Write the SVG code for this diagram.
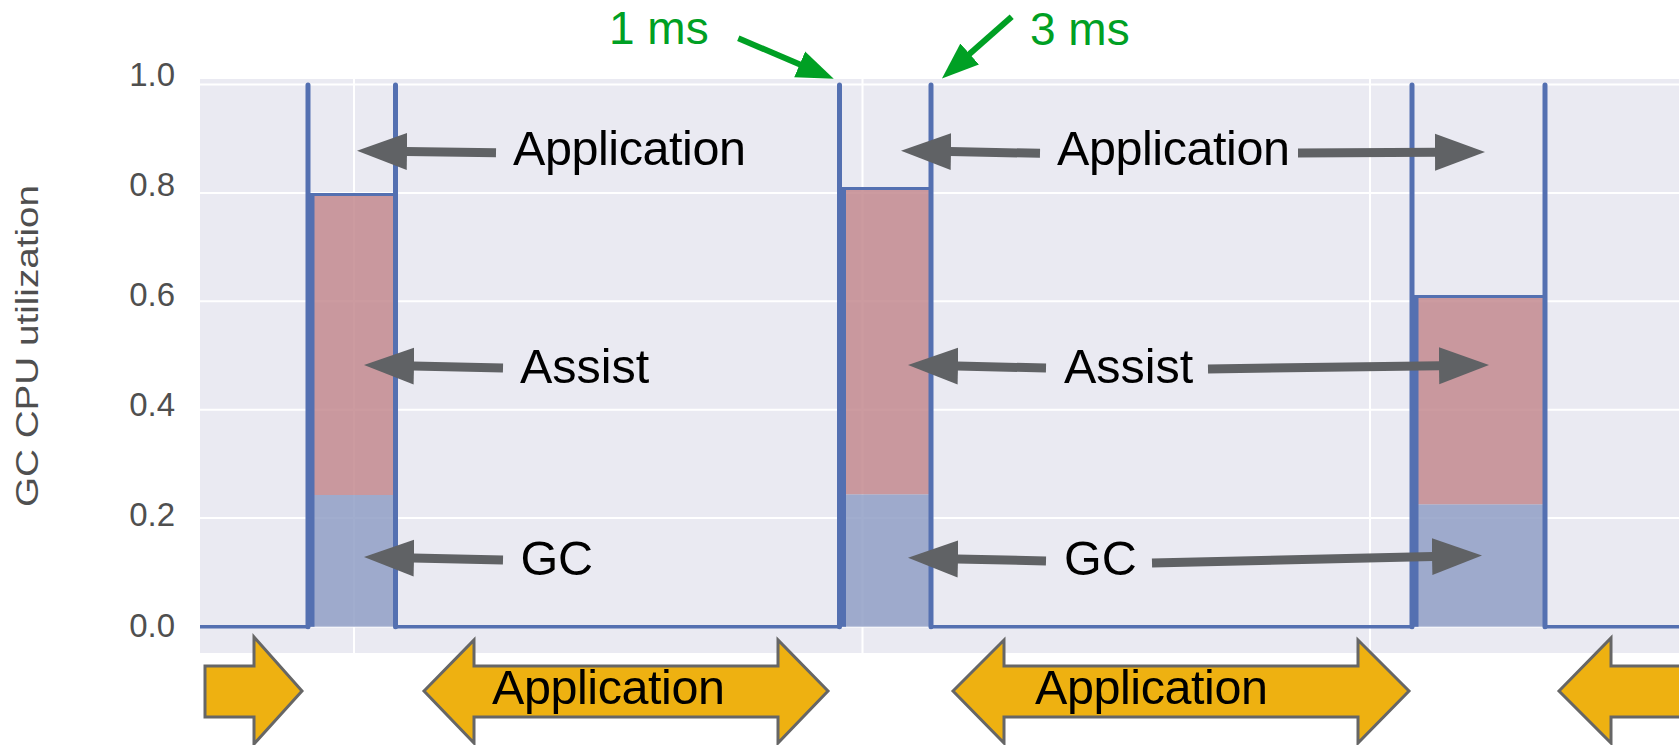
<svg xmlns="http://www.w3.org/2000/svg" width="1679" height="745" viewBox="0 0 1679 745">
  <style>
    .tick { font-family: "Liberation Sans", Arial, sans-serif; font-size: 33px; fill: #4f4f4f; text-anchor: end; }
    .ytitle { font-family: "Liberation Sans", Arial, sans-serif; font-size: 32px; fill: #4f4f4f; text-anchor: middle; }
    .lbl { font-family: "Liberation Sans", Arial, sans-serif; font-size: 48.5px; fill: #000; }
    .ms { font-family: "Liberation Sans", Arial, sans-serif; font-size: 46px; fill: #00a024; }
    .grid { stroke: #ffffff; stroke-width: 2; fill: none; }
    .line { stroke: #5470b1; fill: none; }
    .red { fill: #c3898f; fill-opacity: 0.85; }
    .blue { fill: #919fc5; fill-opacity: 0.85; }
    .garrow { stroke: #606265; stroke-width: 9; fill: none; marker-end: url(#gh); }
    .grarrow { stroke: #00a024; stroke-width: 6; fill: none; marker-end: url(#grh); }
    .yarrow { fill: #eeb111; stroke: #666666; stroke-width: 3; stroke-linejoin: miter; }
  </style>
  <defs>
    <marker id="gh" markerUnits="userSpaceOnUse" viewBox="0 -19 50 38" markerWidth="50" markerHeight="38" refX="1" refY="0" orient="auto">
      <path d="M0,-18.5 L50,0 L0,18.5 z" fill="#606265"/>
    </marker>
    <marker id="grh" markerUnits="userSpaceOnUse" viewBox="0 -15 38 30" markerWidth="38" markerHeight="30" refX="1" refY="0" orient="auto">
      <path d="M0,-14 L37,0 L0,14 z" fill="#00a024"/>
    </marker>
  </defs>

  <g id="plot">
    <rect x="200" y="79" width="1479" height="574" fill="#eaeaf2"/>
    <g class="grid">
      <path d="M200,84.5 H1679 M200,192.9 H1679 M200,301.3 H1679 M200,409.7 H1679 M200,518.1 H1679 M200,626.5 H1679"/>
      <path d="M354,79 V653 M862.5,79 V653 M1370,79 V653"/>
    </g>
    <g id="axis-labels">
      <text class="tick" x="175" y="85.5">1.0</text>
      <text class="tick" x="175" y="195.7">0.8</text>
      <text class="tick" x="175" y="305.9">0.6</text>
      <text class="tick" x="175" y="416.1">0.4</text>
      <text class="tick" x="175" y="526.3">0.2</text>
      <text class="tick" x="175" y="636.5">0.0</text>
      <text class="ytitle" transform="translate(38,346) rotate(-90)" textLength="322" lengthAdjust="spacingAndGlyphs">GC CPU utilization</text>
    </g>
  </g>

  <g id="spike1">
    <rect class="red" x="308" y="194.5" width="87.5" height="300.5"/>
    <rect class="blue" x="308" y="495" width="87.5" height="131.7"/>
  </g>
  <g id="spike2">
    <rect class="red" x="839.5" y="188.5" width="91.5" height="306"/>
    <rect class="blue" x="839.5" y="494.5" width="91.5" height="132.2"/>
  </g>
  <g id="spike3">
    <rect class="red" x="1412" y="296.5" width="133" height="208"/>
    <rect class="blue" x="1412" y="504.5" width="133" height="122.2"/>
  </g>

  <g id="series-line">
    <path class="line" stroke-width="3.5" d="M200,626.7 H308 M395.5,626.7 H839.5 M931,626.7 H1412 M1545,626.7 H1679"/>
    <path class="line" stroke-width="5" stroke-linecap="round" d="M308,85 V626.7 M395.5,85 V626.7 M839.5,85 V626.7 M931,85 V626.7 M1412,85 V626.7 M1545,85 V626.7"/>
    <path class="line" stroke-width="5" d="M312,194.5 V626.7 M843.5,188.5 V626.7 M1416,296.5 V626.7"/>
    <path class="line" stroke-width="3" d="M308,194.5 H395.5 M839.5,188.5 H931 M1412,296.5 H1545"/>
  </g>

  <g id="connectors">
    <line class="garrow" x1="496" y1="152.7" x2="406" y2="151.4"/>
    <line class="garrow" x1="1040" y1="153.3" x2="950" y2="151.6"/>
    <line class="garrow" x1="1298" y1="153" x2="1436" y2="152.3"/>
    <line class="garrow" x1="503" y1="368" x2="413" y2="366.1"/>
    <line class="garrow" x1="1046" y1="368" x2="957" y2="366.1"/>
    <line class="garrow" x1="1208" y1="369" x2="1440" y2="365.7"/>
    <line class="garrow" x1="503" y1="560" x2="413" y2="558.1"/>
    <line class="garrow" x1="1046" y1="561" x2="957" y2="558.9"/>
    <line class="garrow" x1="1152" y1="563" x2="1433" y2="556.6"/>
    <line class="grarrow" x1="738.3" y1="38.3" x2="800.6" y2="64.7"/>
    <line class="grarrow" x1="1011.7" y1="16.7" x2="968.9" y2="54.6"/>
  </g>

  <g id="label-app1"><text class="lbl" x="513" y="165" textLength="233">Application</text></g>
  <g id="label-app2"><text class="lbl" x="1057" y="165" textLength="233">Application</text></g>
  <g id="label-assist1"><text class="lbl" x="520" y="383.3">Assist</text></g>
  <g id="label-assist2"><text class="lbl" x="1064" y="383.3">Assist</text></g>
  <g id="label-gc1"><text class="lbl" x="520.4" y="575">GC</text></g>
  <g id="label-gc2"><text class="lbl" x="1064" y="575">GC</text></g>
  <g id="label-1ms"><text class="ms" x="609" y="44">1 ms</text></g>
  <g id="label-3ms"><text class="ms" x="1030" y="45">3 ms</text></g>

  <g id="phase-arrow-0">
    <polygon class="yarrow" points="205,666 254,666 254,637 302,691 254,744 254,717 205,717"/>
  </g>
  <g id="phase-arrow-1">
    <polygon class="yarrow" points="424,691 474,640 474,666 778,666 778,640 828,691 778,743 778,717 474,717 474,743"/>
    <text class="lbl" x="492" y="704" textLength="233">Application</text>
  </g>
  <g id="phase-arrow-2">
    <polygon class="yarrow" points="953,691 1004,640 1004,666 1358,666 1358,640 1409,691 1358,743 1358,717 1004,717 1004,743"/>
    <text class="lbl" x="1035" y="704" textLength="233">Application</text>
  </g>
  <g id="phase-arrow-3">
    <polygon class="yarrow" points="1559,691 1611,638 1611,666 1690,666 1690,717 1611,717 1611,743"/>
  </g>
</svg>
